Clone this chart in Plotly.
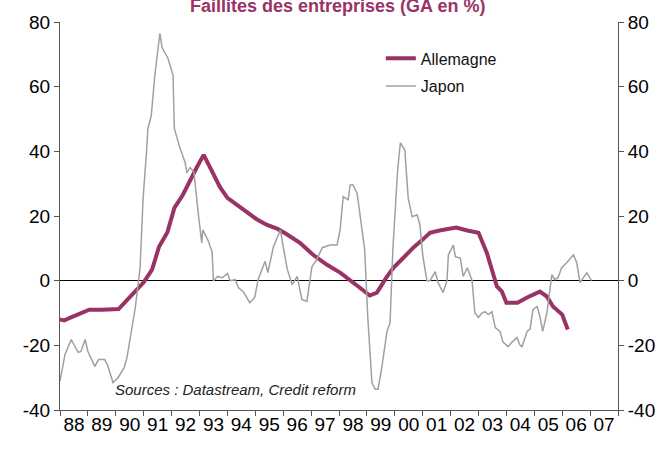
import plotly.graph_objects as go

# ---- data (decimal years, % y/y) ----
de_t = [1988.00, 1988.15, 1988.35, 1988.65, 1989.05, 1989.5, 1990.1, 1990.35, 1990.7, 1991.0,
        1991.3, 1991.55, 1991.85, 1992.1, 1992.4, 1992.7, 1992.9, 1993.15, 1993.45, 1993.73,
        1994.0, 1994.33, 1994.7, 1995.05, 1995.4, 1995.8, 1996.1, 1996.6, 1997.07, 1997.57,
        1998.04, 1998.47, 1998.75, 1999.1, 1999.36, 1999.7, 1999.95, 2000.3, 2000.66, 2001.0,
        2001.26, 2001.6, 2002.2, 2002.6, 2003.0, 2003.3, 2003.66, 2003.84, 2004.0, 2004.4,
        2004.74, 2005.2, 2005.45, 2005.67, 2006.0, 2006.2]
de_v = [-12.0, -12.3, -11.5, -10.5, -9.0, -9.0, -8.8, -6.5, -3.5, -0.5,
        3.4, 10.5, 15.0, 22.5, 26.5, 32.0, 35.0, 38.9, 33.6, 29.0,
        25.6, 23.5, 21.0, 19.0, 17.3, 16.0, 14.5, 11.7, 8.0, 4.9,
        2.5, -0.2, -2.2, -4.6, -3.7, 1.0, 4.0, 7.0, 10.2, 12.7,
        14.8, 15.5, 16.4, 15.5, 14.8, 8.6, -1.8, -3.4, -6.8, -6.8,
        -5.2, -3.4, -4.9, -8.0, -10.5, -15.1]

jp_t = [1988.00, 1988.18, 1988.4, 1988.65, 1988.75, 1988.9, 1989.0, 1989.25, 1989.38, 1989.6,
        1989.7, 1989.9, 1990.08, 1990.3, 1990.4, 1990.7, 1990.87, 1990.98, 1991.1, 1991.15,
        1991.27, 1991.4, 1991.58, 1991.66, 1991.87, 1992.05, 1992.1, 1992.3, 1992.48, 1992.55,
        1992.66, 1992.8, 1992.95, 1993.08, 1993.12, 1993.3, 1993.45, 1993.5, 1993.65, 1993.82,
        1994.0, 1994.1, 1994.28, 1994.4, 1994.57, 1994.8, 1994.98, 1995.1, 1995.35, 1995.45,
        1995.65, 1995.9, 1996.0, 1996.15, 1996.32, 1996.5, 1996.67, 1996.85, 1997.03, 1997.2,
        1997.4, 1997.68, 1997.93, 1998.04, 1998.15, 1998.33, 1998.4, 1998.5, 1998.65, 1998.8,
        1998.92, 1999.03, 1999.18, 1999.3, 1999.4, 1999.54, 1999.72, 1999.83, 1999.93, 2000.1,
        2000.2, 2000.36, 2000.48, 2000.62, 2000.8, 2000.9, 2001.0, 2001.15, 2001.26, 2001.45,
        2001.55, 2001.73, 2001.87, 2001.92, 2002.1, 2002.17, 2002.35, 2002.45, 2002.6, 2002.77,
        2002.87, 2003.0, 2003.12, 2003.23, 2003.35, 2003.48, 2003.6, 2003.77, 2003.88, 2004.06,
        2004.2, 2004.38, 2004.48, 2004.56, 2004.74, 2004.85, 2004.95, 2005.1, 2005.2, 2005.3,
        2005.45, 2005.63, 2005.73, 2005.85, 2005.98, 2006.17, 2006.4, 2006.52, 2006.64, 2006.88,
        2007.05]
jp_v = [-31.0, -22.8, -18.2, -22.2, -21.9, -18.2, -21.9, -26.5, -24.4, -24.4,
        -26.0, -31.5, -30.0, -26.9, -23.8, -8.3, 4.0, 25.6, 39.8, 47.0,
        51.0, 63.6, 76.5, 72.0, 68.8, 63.6, 47.0, 41.0, 36.7, 33.3,
        35.0, 33.6, 21.3, 11.7, 15.7, 12.6, 9.0, 0.0, 1.3, 0.9,
        2.2, 0.0, 0.3, -2.2, -3.4, -6.8, -5.2, 0.3, 6.0, 2.5,
        10.5, 15.7, 10.5, 3.4, -1.2, 1.3, -5.8, -6.4, 4.3, 6.5,
        10.2, 11.0, 11.0, 15.7, 26.0, 25.0, 29.6, 29.6, 27.0, 16.7,
        9.6, -11.0, -31.5, -33.6, -33.6, -26.5, -15.7, -13.0, 9.6, 34.0,
        42.6, 40.4, 25.6, 19.8, 20.4, 17.3, 8.0, 0.0, 0.0, 2.8,
        -0.6, -3.7, 0.0, 8.0, 11.0, 7.4, 7.0, 1.3, 4.0, 0.0,
        -10.0, -11.4, -10.0, -9.6, -10.5, -9.6, -14.5, -15.7, -19.0, -20.4,
        -19.0, -17.6, -19.8, -20.4, -15.7, -15.0, -9.0, -8.0, -11.0, -15.7,
        -10.0, 1.9, 0.3, 0.9, 4.0, 5.6, 8.0, 5.6, -0.6, 2.5,
        0.0]

years = list(range(1988, 2008))
year_labels = [f"{y % 100:02d}" for y in years]
y_ticks = [-40, -20, 0, 20, 40, 60, 80]
y_labels = [str(v) for v in y_ticks]

MAGENTA = "#993366"
GREY = "#a0a0a0"
AXIS = "#555555"
FONT = "Liberation Sans, Arial, sans-serif"

fig = go.Figure()
fig.add_trace(go.Scatter(x=de_t, y=de_v, mode="lines", name="Allemagne",
                         line=dict(color=MAGENTA, width=4), legendgroup="a"))
fig.add_trace(go.Scatter(x=jp_t, y=jp_v, mode="lines", name="Japon",
                         line=dict(color=GREY, width=1.5), legendgroup="b"))
# helper so the right-hand axis is drawn
fig.add_trace(go.Scatter(x=[years[0]], y=[None], yaxis="y2", showlegend=False,
                         hoverinfo="skip", mode="lines"))

fig.update_layout(
    template="none",
    width=668, height=450,
    margin=dict(l=60, r=50, t=22, b=40, autoexpand=False),
    paper_bgcolor="white", plot_bgcolor="white",
    font=dict(family=FONT, size=19, color="black"),
    showlegend=True,
    legend=dict(x=0.575, y=0.95, xanchor="left", yanchor="top",
                font=dict(size=16, color="#111"), bgcolor="rgba(0,0,0,0)",
                borderwidth=0, traceorder="grouped", tracegroupgap=4),
    xaxis=dict(range=[1988, 2008], showgrid=False, zeroline=False, automargin=False,
               showline=True, linecolor=AXIS, linewidth=1,
               tickmode="array", tickvals=[y + 0.5 for y in years], ticktext=year_labels,
               ticks="", tickfont=dict(size=19), ticklabelstandoff=-3,
               minor=dict(tickmode="array", tickvals=years + [2008], ticks="outside",
                          ticklen=5, tickcolor=AXIS, showgrid=False)),
    yaxis=dict(range=[-40, 80], showgrid=False, zeroline=True, zerolinecolor="black",
               zerolinewidth=1, showline=True, linecolor=AXIS, linewidth=1, automargin=False,
               tickmode="array", tickvals=y_ticks, ticktext=y_labels, ticks="outside",
               ticklen=5, tickcolor=AXIS, tickfont=dict(size=19)),
    yaxis2=dict(range=[-40, 80], overlaying="y", side="right", showgrid=False,
                zeroline=False, showline=True, linecolor=AXIS, linewidth=1, automargin=False,
                tickmode="array", tickvals=y_ticks, ticktext=y_labels, ticks="outside",
                ticklen=5, tickcolor=AXIS, tickfont=dict(size=19)),
)

fig.add_annotation(text="<b>Faillites des entreprises (GA en %)</b>", xref="paper", yref="paper",
                   x=0.498, y=1.042, xanchor="center", yanchor="middle", showarrow=False,
                   font=dict(size=18, color=MAGENTA, family=FONT))
fig.add_annotation(text="<i>Sources : Datastream, Credit reform</i>", xref="paper", yref="paper",
                   x=(113 - 60) / 558, y=(410 - 389) / 388, xanchor="left", yanchor="middle",
                   showarrow=False, font=dict(size=15, color="#222", family=FONT))

fig.write_html("out.html", config={"displayModeBar": False},
               post_script="document.body.style.margin='0';document.body.style.padding='0';")
